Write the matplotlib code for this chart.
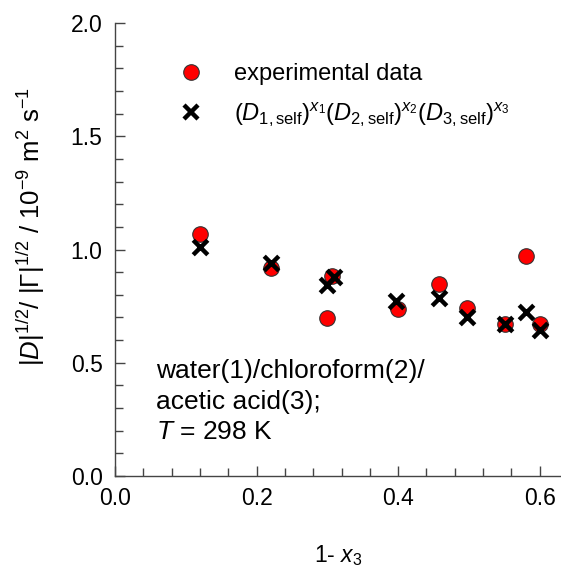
import matplotlib.pyplot as plt
from matplotlib.ticker import MultipleLocator
from matplotlib.lines import Line2D

plt.rcParams['font.family'] = ['Liberation Sans', 'DejaVu Sans']
plt.rcParams['mathtext.fontset'] = 'custom'
plt.rcParams['mathtext.rm'] = 'Liberation Sans'
plt.rcParams['mathtext.it'] = 'Liberation Sans:italic'
plt.rcParams['mathtext.bf'] = 'Liberation Sans:bold'

# experimental data
x_exp = [0.12, 0.22, 0.307, 0.30, 0.40, 0.457, 0.497, 0.551, 0.580, 0.600]
y_exp = [1.068, 0.917, 0.883, 0.696, 0.736, 0.846, 0.743, 0.670, 0.971, 0.670]

# product of self diffusivities
x_self = [0.12, 0.22, 0.30, 0.309, 0.397, 0.457, 0.497, 0.551, 0.580, 0.600]
y_self = [1.010, 0.939, 0.843, 0.880, 0.774, 0.787, 0.703, 0.671, 0.725, 0.645]

fig = plt.figure(figsize=(5.61, 5.69), dpi=100)
ax = fig.add_axes([0.205, 0.1634, 0.795, 0.7962])

ax.scatter(x_exp, y_exp, s=125, c='red', edgecolors='#333333', linewidths=0.8, zorder=2)
ax.scatter(x_self, y_self, s=110, marker='x', c='black', linewidths=3.2, zorder=3)

ax.set_xlim(0, 0.63)
ax.set_ylim(0, 2.0)
ax.xaxis.set_major_locator(MultipleLocator(0.2))
ax.xaxis.set_minor_locator(MultipleLocator(0.04))
ax.yaxis.set_major_locator(MultipleLocator(0.5))
ax.yaxis.set_minor_locator(MultipleLocator(0.1))
ax.xaxis.set_major_formatter(lambda v, p: f"{v:.1f}")
ax.yaxis.set_major_formatter(lambda v, p: f"{v:.1f}")

ax.spines['top'].set_visible(False)
ax.spines['right'].set_visible(False)
for s in ['left', 'bottom']:
    ax.spines[s].set_color('#444444')
    ax.spines[s].set_linewidth(1.0)
ax.tick_params(which='both', direction='in', labelsize=16.5, color='#444444', width=1.0)
ax.tick_params(which='major', length=7.5)
ax.tick_params(which='minor', length=5.5)
ax.tick_params(axis='x', pad=8)
ax.tick_params(axis='y', pad=9)

ax.set_xlabel(r'1- $x_3$', fontsize=16.5, labelpad=24)
ax.set_ylabel(r'$|D|^{1/2}$/ $|\Gamma|^{1/2}$ / 10$^{-9}$ m$^2$ s$^{-1}$', fontsize=18.5)
ax.yaxis.set_label_coords(-0.152, 0.55)

handles = [
    Line2D([], [], ls='none', marker='o', ms=11.2, mfc='red', mec='#333333', mew=0.8),
    Line2D([], [], ls='none', marker='x', ms=10, mfc='black', mec='black', mew=3.2),
]
labels = ['experimental data',
          r'$(D_{1,\mathrm{self}})^{x_1}(D_{2,\mathrm{self}})^{x_2}(D_{3,\mathrm{self}})^{x_3}$']
ax.legend(handles, labels, frameon=False, fontsize=17, loc='upper left',
          bbox_to_anchor=(0.097, 0.932), handletextpad=0.8, labelspacing=0.63,
          borderaxespad=0.0)

note = ['water(1)/chloroform(2)/', 'acetic acid(3);', '$T$ = 298 K']
for i, line in enumerate(note):
    ax.text(0.092, 0.2163 - i * 0.0673, line, transform=ax.transAxes,
            fontsize=19, va='baseline', ha='left')

fig.savefig('out.png', dpi=100)
